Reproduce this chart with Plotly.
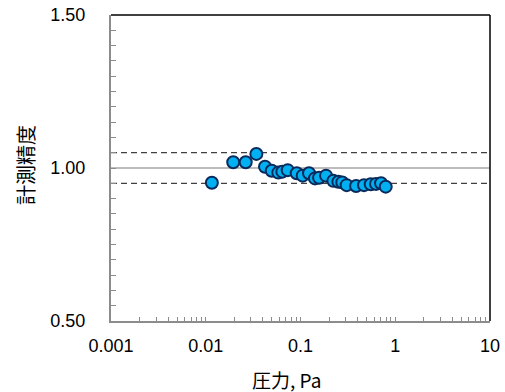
import plotly.graph_objects as go

pressure = [0.0116, 0.0195, 0.0264, 0.0342, 0.0422, 0.0497, 0.0583, 0.0643, 0.0733,
            0.0912, 0.1055, 0.123, 0.142, 0.157, 0.186, 0.222, 0.251, 0.276, 0.307,
            0.386, 0.468, 0.551, 0.627, 0.708, 0.793]
accuracy = [0.952, 1.019, 1.019, 1.046, 1.004, 0.991, 0.985, 0.988, 0.993,
            0.983, 0.975, 0.983, 0.966, 0.968, 0.975, 0.958, 0.955, 0.953, 0.944,
            0.941, 0.944, 0.947, 0.948, 0.950, 0.939]
ref_x = [0.001, 10]
ref_center = 1.00
ref_upper = 1.05
ref_lower = 0.95
x_ticks = [0.001, 0.01, 0.1, 1, 10]
x_ticklabels = ["0.001", "0.01", "0.1", "1", "10"]

font = "'Liberation Sans', Arial, sans-serif"
cjk = "'Noto Sans CJK JP', sans-serif"

fig = go.Figure()
fig.add_trace(go.Scatter(x=ref_x, y=[ref_center]*2, mode="lines",
                         line=dict(color="#a6a6a6", width=1.5), hoverinfo="skip"))
fig.add_trace(go.Scatter(x=ref_x, y=[ref_upper]*2, mode="lines",
                         line=dict(color="#404040", width=1.2, dash="6px,4px"), hoverinfo="skip"))
fig.add_trace(go.Scatter(x=ref_x, y=[ref_lower]*2, mode="lines",
                         line=dict(color="#404040", width=1.2, dash="6px,4px"), hoverinfo="skip"))
fig.add_trace(go.Scatter(x=pressure, y=accuracy, mode="markers",
                         marker=dict(size=12, color="#00b0f0",
                                     line=dict(color="#0b2a5c", width=2))))

fig.update_layout(
    width=505, height=392,
    margin=dict(l=111, r=15, t=15, b=71, autoexpand=False),
    paper_bgcolor="white", plot_bgcolor="white",
    showlegend=False,
    font=dict(family=font, size=18, color="black"),
    xaxis=dict(type="log", range=[-3, 1], showgrid=False, zeroline=False,
               showline=True, linecolor="#8c8c8c", linewidth=2, automargin=False,
               tickvals=x_ticks, ticktext=x_ticklabels, ticklabeloverflow="allow",
               ticklabelstandoff=7,
               ticks="inside", ticklen=4, tickcolor="#8c8c8c",
               minor=dict(ticks="inside", ticklen=4, tickcolor="#8c8c8c", dtick="D1", showgrid=False)),
    yaxis=dict(range=[0.5, 1.5], showgrid=False, zeroline=False,
               showline=True, linecolor="#8c8c8c", linewidth=2, automargin=False,
               dtick=0.5, tickformat=".2f", ticklabeloverflow="allow",
               ticklabelstandoff=20,
               ticks="inside", ticklen=5, tickcolor="#8c8c8c",
               minor=dict(ticks="inside", ticklen=5, tickcolor="#8c8c8c", dtick=0.05, showgrid=False)),
    shapes=[
        dict(type="line", xref="paper", yref="paper", x0=0, x1=1, y0=1, y1=1,
             line=dict(color="black", width=1.5)),
        dict(type="line", xref="paper", yref="paper", x0=1, x1=1, y0=0, y1=1,
             line=dict(color="black", width=1.5)),
    ],
    annotations=[
        dict(text="圧力, Pa", xref="paper", yref="paper", x=0.464, y=-0.19,
             xanchor="center", yanchor="middle", showarrow=False, borderpad=0,
             font=dict(family=cjk, size=19)),
        dict(text="計測精度", xref="paper", yref="paper", x=-0.224, y=0.51,
             xanchor="center", yanchor="middle", showarrow=False, textangle=-90,
             borderpad=0, font=dict(family=cjk, size=20)),
    ],
)

fig.write_html("out.html", config={"displayModeBar": False},
               post_script="document.body.style.margin='0';")
